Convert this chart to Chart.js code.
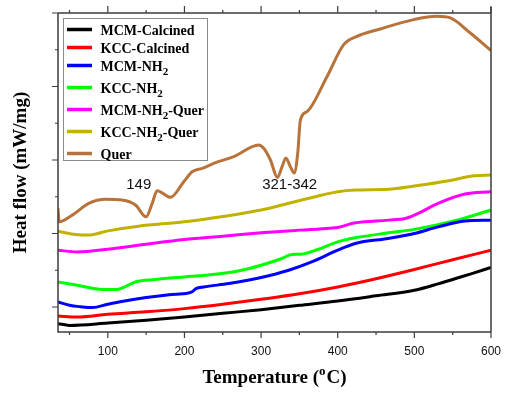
<!DOCTYPE html>
<html><head><meta charset="utf-8">
<script src="https://cdn.jsdelivr.net/npm/chart.js@4/dist/chart.umd.min.js"></script>
<style>html,body{margin:0;padding:0;background:#fff}</style>
</head><body>
<canvas id="c" width="515" height="398"></canvas>
<script>
// ---- data ----
const labels = ['MCM-Calcined','KCC-Calcined','MCM-NH₂','KCC-NH₂','MCM-NH₂-Quer','KCC-NH₂-Quer','Quer'];

const T_mcmCal = [35,50,100,150,200,250,300,350,400,450,500,531,553,575,600];
const Y_mcmCal = [-0.226,-0.25,-0.218,-0.18,-0.136,-0.086,-0.036,0.023,0.082,0.153,0.228,0.315,0.385,0.455,0.537];

const T_kccCal = [35,60,100,150,200,250,300,350,400,450,500,550,600];
const Y_kccCal = [-0.123,-0.136,-0.1,-0.065,-0.022,0.037,0.105,0.18,0.273,0.385,0.51,0.644,0.773];

const T_mcmNH2 = [35,50,65,80,100,120,150,180,205,210,215,225,258,300,336,366,400,423,466,500,531,566,600];
const Y_mcmNH2 = [0.068,0.023,0.003,-0.008,0.037,0.078,0.128,0.166,0.19,0.207,0.251,0.273,0.319,0.401,0.5,0.614,0.773,0.865,0.933,1.0,1.09,1.169,1.182];

const T_kccNH2 = [35,60,97,112,120,136,162,200,227,270,300,327,340,352,374,400,423,466,500,553,600];
const Y_kccNH2 = [0.341,0.296,0.237,0.237,0.265,0.341,0.374,0.409,0.432,0.491,0.569,0.66,0.715,0.719,0.783,0.886,0.941,1.009,1.056,1.173,1.319];

const T_mcmQ = [35,60,100,150,200,250,300,350,390,400,423,466,488,500,531,566,600];
const Y_mcmQ = [0.773,0.75,0.787,0.855,0.919,0.964,1.009,1.046,1.073,1.083,1.145,1.182,1.205,1.25,1.41,1.537,1.568];

const T_kccQ = [35,55,75,100,140,200,250,300,353,400,423,466,500,545,575,600];
const Y_kccQ = [1.032,0.991,0.978,1.036,1.1,1.159,1.23,1.319,1.455,1.568,1.591,1.601,1.646,1.718,1.782,1.796];

const T_quer = [35,36.5,53.6,75.2,97,118.8,136.1,150,157.9,164.4,181.8,199.1,210,223.1,240.5,264.3,297,303.4,312.2,321.3,327.4,332.4,338.3,343.1,347.8,351.3,360,386.1,407.8,425.2,455.6,499.1,529.6,546.9,573,600];
const Y_quer = [1.342,1.16,1.25,1.41,1.465,1.455,1.387,1.227,1.41,1.582,1.492,1.705,1.841,1.887,1.964,2.046,2.205,2.16,2.0,1.762,1.909,2.028,1.905,1.823,2.092,2.546,2.659,3.137,3.569,3.682,3.783,3.91,3.955,3.933,3.728,3.49];

const xMajor = [100,200,300,400,500,600];
const xMinor = [50,150,250,350,450,550];
const yMajor = [0,1,2,3,4];
const yMinor = [0.5,1.5,2.5,3.5];

const peakText = ['149','321-342'];
const peakT = [140.4,337.3];
const peakY = [1.66,1.66];

// ---- styling ----
const colors = ['#000000','#ff0000','#0000ff','#00ff00','#ff00ff','#c2b200','#b8733a'];
const series = [[T_mcmCal,Y_mcmCal],[T_kccCal,Y_kccCal],[T_mcmNH2,Y_mcmNH2],[T_kccNH2,Y_kccNH2],[T_mcmQ,Y_mcmQ],[T_kccQ,Y_kccQ],[T_quer,Y_quer]];

const datasets = series.map((s,i)=>({
  label: labels[i],
  data: s[0].map((t,k)=>({x:t,y:s[1][k]})),
  borderColor: colors[i],
  backgroundColor: colors[i],
  borderWidth: 3,
  pointRadius: 0,
  cubicInterpolationMode: 'monotone',
  fill: false
}));

const AXC = '#3c3c3c';
const SERIF = '"Liberation Serif","Times New Roman",serif';
const SANS = '"Liberation Sans",Arial,sans-serif';

function drawRich(ctx, text, x, y, size){
  const parts = text.split('₂');
  let cx = x;
  parts.forEach((p,i)=>{
    ctx.font = 'bold '+size+'px '+SERIF;
    ctx.fillText(p, cx, y); cx += ctx.measureText(p).width;
    if(i < parts.length-1){
      ctx.font = 'bold '+Math.round(size*0.75)+'px '+SERIF;
      ctx.fillText('2', cx, y+4); cx += ctx.measureText('2').width;
    }
  });
}

const decor = {
  id:'decor',
  afterDatasetsDraw(chart){
    const ctx = chart.ctx, a = chart.chartArea, xs = chart.scales.x, ys = chart.scales.y;
    ctx.save();
    // frame
    ctx.strokeStyle = AXC; ctx.lineWidth = 1.5; ctx.lineCap = 'butt';
    ctx.beginPath();
    ctx.moveTo(a.left, a.top); ctx.lineTo(a.left, a.bottom); ctx.lineTo(a.right, a.bottom);
    ctx.moveTo(a.left, a.top); ctx.lineTo(a.right, a.top);
    ctx.moveTo(a.right, a.top-6); ctx.lineTo(a.right, a.bottom);
    ctx.stroke();
    // ticks
    ctx.lineWidth = 1.2;
    ctx.beginPath();
    xMajor.forEach(v=>{const p=xs.getPixelForValue(v); ctx.moveTo(p,a.bottom); ctx.lineTo(p,a.bottom+6); ctx.moveTo(p,a.top); ctx.lineTo(p,a.top-7);});
    xMinor.forEach(v=>{const p=xs.getPixelForValue(v); ctx.moveTo(p,a.bottom); ctx.lineTo(p,a.bottom+3); ctx.moveTo(p,a.top); ctx.lineTo(p,a.top-3);});
    yMajor.forEach(v=>{const p=ys.getPixelForValue(v); ctx.moveTo(a.left,p); ctx.lineTo(a.left-6,p);});
    yMinor.forEach(v=>{const p=ys.getPixelForValue(v); ctx.moveTo(a.left,p); ctx.lineTo(a.left-3,p);});
    ctx.stroke();
    // tick labels
    ctx.fillStyle = '#111'; ctx.font = '12px '+SANS; ctx.textAlign='center'; ctx.textBaseline='alphabetic';
    xMajor.forEach(v=>{ctx.fillText(String(v), xs.getPixelForValue(v), a.bottom+22.5);});
    // peak annotations
    ctx.font = '15px '+SANS; ctx.fillStyle='#111'; ctx.textBaseline='middle';
    peakText.forEach((t,i)=>{ctx.fillText(t, xs.getPixelForValue(peakT[i]), ys.getPixelForValue(peakY[i]));});
    // x title with superscript
    ctx.fillStyle='#000'; ctx.textBaseline='alphabetic'; ctx.textAlign='left';
    const f1 = 'bold 19px '+SERIF, f2 = 'bold 13px '+SERIF;
    ctx.font=f1; const w1=ctx.measureText('Temperature (').width, w3=ctx.measureText('C)').width;
    ctx.font=f2; const w2=ctx.measureText('o').width+1;
    let x0 = (a.left+a.right)/2 - (w1+w2+w3)/2, by = 383;
    ctx.font=f1; ctx.fillText('Temperature (', x0, by);
    ctx.font=f2; ctx.fillText('o', x0+w1, by-8);
    ctx.font=f1; ctx.fillText('C)', x0+w1+w2, by);
    // y title
    ctx.save(); ctx.translate(26, (a.top+a.bottom)/2); ctx.rotate(-Math.PI/2);
    ctx.textAlign='center'; ctx.font=f1; ctx.fillText('Heat flow (mW/mg)', 0, 0); ctx.restore();
    // legend
    const lx = a.left+5.5, ly = 18.5, lw = 144, lh = 142;
    ctx.fillStyle='#fff'; ctx.fillRect(lx,ly,lw,lh);
    ctx.strokeStyle='#8a8a8a'; ctx.lineWidth=1; ctx.strokeRect(lx,ly,lw,lh);
    let yy = 29.5;
    chart.data.datasets.forEach((d,i)=>{
      if(i>0) yy += chart.data.datasets[i-1].label.includes('₂') ? 22 : 18;
      ctx.strokeStyle=d.borderColor; ctx.lineWidth=3.5;
      ctx.beginPath(); ctx.moveTo(lx+3.5, yy); ctx.lineTo(lx+28.5, yy); ctx.stroke();
      ctx.fillStyle='#000'; ctx.textAlign='left'; ctx.textBaseline='alphabetic';
      drawRich(ctx, d.label, lx+37, yy+5, 14);
    });
    ctx.restore();
  }
};

new Chart(document.getElementById('c'), {
  type:'line',
  data:{datasets},
  options:{
    responsive:false, animation:false, devicePixelRatio:1,
    layout:{padding:{left:58, top:13, right:24, bottom:66}},
    plugins:{legend:{display:false}, tooltip:{enabled:false}},
    scales:{
      x:{type:'linear', min:35, max:600, display:false},
      y:{type:'linear', min:-0.34, max:4, display:false}
    }
  },
  plugins:[decor]
});
</script>
</body></html>
